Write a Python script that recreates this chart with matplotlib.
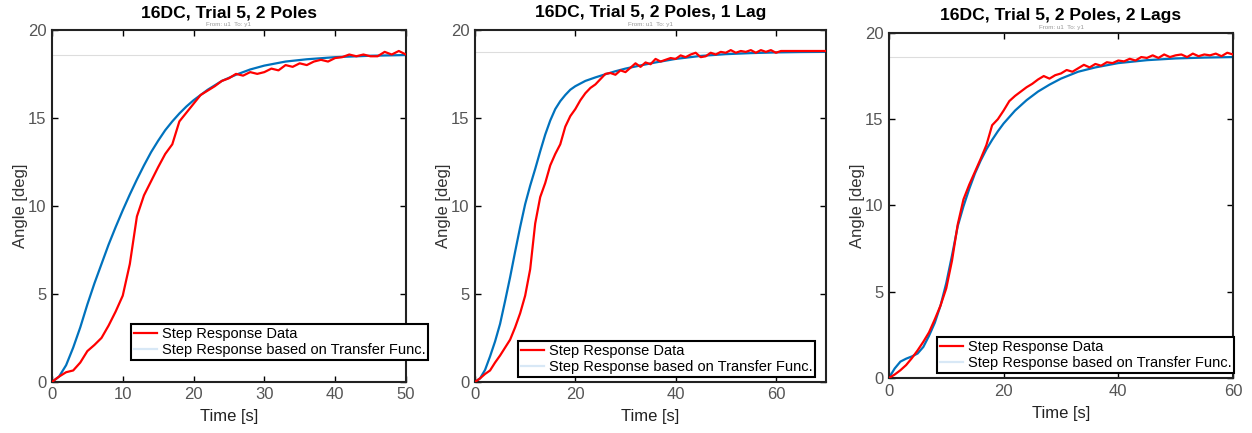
import numpy as np
import matplotlib
matplotlib.use('Agg')
import matplotlib.pyplot as plt

plt.rcParams['font.family'] = ['Liberation Sans', 'DejaVu Sans']

titles = ['16DC, Trial 5, 2 Poles', '16DC, Trial 5, 2 Poles, 1 Lag', '16DC, Trial 5, 2 Poles, 2 Lags']
legend_labels = ['Step Response Data', 'Step Response based on Transfer Func.']
x_limits = [50, 70, 60]
x_ticks = [[0, 10, 20, 30, 40, 50], [0, 20, 40, 60], [0, 20, 40, 60]]
y_ticks = [0, 5, 10, 15, 20]
steady_state = [18.6, 18.75, 18.6]

# measured data (1 s samples)
data1_t = list(range(0, 51))
data1_y = [0, 0.3, 0.55, 0.65, 1.1, 1.75, 2.1, 2.5, 3.2, 4.0, 4.9, 6.7, 9.4, 10.6, 11.4, 12.2,
           12.95, 13.5, 14.8, 15.3, 15.8, 16.3, 16.55, 16.8, 17.1, 17.25, 17.5, 17.4, 17.6, 17.5,
           17.6, 17.8, 17.7, 18.0, 17.9, 18.1, 18.0, 18.2, 18.3, 18.2, 18.4, 18.45, 18.6, 18.5,
           18.6, 18.5, 18.5, 18.75, 18.6, 18.8, 18.6]
data2_t = list(range(0, 71))
data2_y = [0, 0.2, 0.45, 0.65, 1.1, 1.5, 1.95, 2.4, 3.1, 3.9, 4.9, 6.4, 9.0, 10.5, 11.3, 12.3,
           12.95, 13.5, 14.5, 15.1, 15.5, 16.0, 16.4, 16.7, 16.9, 17.2, 17.5, 17.55, 17.45, 17.7,
           17.6, 17.85, 18.1, 17.9, 18.15, 18.05, 18.35, 18.2, 18.3, 18.4, 18.35, 18.55, 18.45,
           18.6, 18.7, 18.45, 18.5, 18.7, 18.6, 18.75, 18.7, 18.85, 18.7, 18.8, 18.75, 18.85,
           18.7, 18.85, 18.75, 18.85, 18.7, 18.8, 18.8, 18.8, 18.8, 18.8, 18.8, 18.8, 18.8, 18.8, 18.8]
data3_t = list(range(0, 61))
data3_y = [0, 0.2, 0.45, 0.75, 1.15, 1.6, 2.1, 2.65, 3.4, 4.2, 5.2, 6.8, 8.9, 10.35, 11.2, 11.95,
           12.7, 13.5, 14.65, 15.0, 15.5, 16.05, 16.35, 16.6, 16.85, 17.05, 17.3, 17.5, 17.35,
           17.55, 17.65, 17.85, 17.75, 17.95, 18.15, 18.0, 18.2, 18.1, 18.3, 18.25, 18.4, 18.35,
           18.5, 18.4, 18.6, 18.55, 18.7, 18.55, 18.75, 18.6, 18.7, 18.75, 18.6, 18.8, 18.65,
           18.75, 18.7, 18.8, 18.65, 18.85, 18.75]

# transfer function step responses
tf1_t = [0, 1, 2, 3, 4, 5, 6, 7, 8, 9, 10, 11, 12, 13, 14, 15, 16, 17, 18, 19, 20, 22, 24, 26,
         28, 30, 33, 36, 40, 45, 50]
tf1_y = [0, 0.3, 0.95, 1.95, 3.1, 4.4, 5.6, 6.7, 7.8, 8.8, 9.75, 10.65, 11.5, 12.3, 13.05, 13.7,
         14.3, 14.8, 15.25, 15.65, 16.0, 16.6, 17.1, 17.45, 17.75, 17.97, 18.2, 18.33, 18.45,
         18.53, 18.57]
tf2_t = [0, 1, 2, 3, 4, 5, 6, 7, 8, 9, 10, 11, 12, 13, 14, 15, 16, 17, 18, 19, 20, 22, 24, 26,
         28, 30, 33, 36, 40, 45, 50, 55, 60, 65, 70]
tf2_y = [0, 0.2, 0.68, 1.45, 2.3, 3.3, 4.6, 5.95, 7.4, 8.8, 10.1, 11.15, 12.1, 13.1, 14.05, 14.85,
         15.5, 15.95, 16.3, 16.6, 16.8, 17.1, 17.3, 17.48, 17.65, 17.8, 17.98, 18.15, 18.35,
         18.52, 18.62, 18.68, 18.72, 18.74, 18.75]
tf3_t = [0, 1, 2, 3, 4, 5, 6, 7, 8, 9, 10, 11, 12, 13, 14, 15, 16, 17, 18, 19, 20, 22, 24, 26,
         28, 30, 33, 36, 40, 45, 50, 55, 60]
tf3_y = [0, 0.55, 0.95, 1.12, 1.25, 1.42, 1.8, 2.45, 3.2, 4.2, 5.5, 7.1, 8.8, 9.95, 10.95, 11.85,
         12.6, 13.25, 13.8, 14.3, 14.75, 15.5, 16.1, 16.6, 17.0, 17.35, 17.75, 18.0, 18.25,
         18.42, 18.52, 18.57, 18.6]

data_t = [data1_t, data2_t, data3_t]
data_y = [data1_y, data2_y, data3_y]
tf_t = [tf1_t, tf2_t, tf3_t]
tf_y = [tf1_y, tf2_y, tf3_y]

# axes boxes in figure fraction (left, bottom, width, height)
boxes = [[0.0415, 0.118, 0.2827, 0.813], [0.3794, 0.118, 0.2804, 0.813], [0.710, 0.127, 0.2748, 0.797]]
legend_pos = [(0.223, 0.062), (0.1225, 0.014), (0.14, 0.0145)]

fig = plt.figure(figsize=(12.52, 4.33), dpi=100)
for i in range(3):
    ax = fig.add_axes(boxes[i])
    ax.axhline(steady_state[i], color='#dddddd', lw=0.8, zorder=1)
    ax.plot(data_t[i], data_y[i], color='#ff0000', lw=1.6, label=legend_labels[0], zorder=3)
    ax.plot(tf_t[i], tf_y[i], color='#0072bd', lw=1.6, label=legend_labels[1], zorder=2)
    ax.set_xlim(0, x_limits[i])
    ax.set_ylim(0, 20)
    ax.set_xticks(x_ticks[i])
    ax.set_yticks(y_ticks)
    ax.tick_params(direction='in', top=True, right=True, length=4, width=1,
                   labelsize=12, labelcolor='#555555', pad=4)
    for s in ax.spines.values():
        s.set_linewidth(1.5)
        s.set_color('#222222')
    ax.set_xlabel('Time [s]', fontsize=12, color='#222222', labelpad=5)
    ax.set_ylabel('Angle [deg]', fontsize=12, color='#333333', labelpad=0)
    ax.set_title(titles[i], fontsize=12.6, fontweight='bold', pad=9)
    ax.text(0.5, 1.008, 'From: u1  To: y1', transform=ax.transAxes, ha='center', va='bottom',
            fontsize=4.5, color='#999999')
    leg = ax.legend(loc='lower left', bbox_to_anchor=legend_pos[i], fontsize=10.5,
                    frameon=True, fancybox=False, framealpha=1, edgecolor='black',
                    borderpad=0.2, handlelength=1.6, handletextpad=0.3, labelspacing=0.15,
                    borderaxespad=0)
    leg.get_frame().set_linewidth(1.5)
    leg.get_lines()[1].set_color('#d8e8f6')
    leg.set_zorder(5)

plt.savefig('out.png', dpi=100)
